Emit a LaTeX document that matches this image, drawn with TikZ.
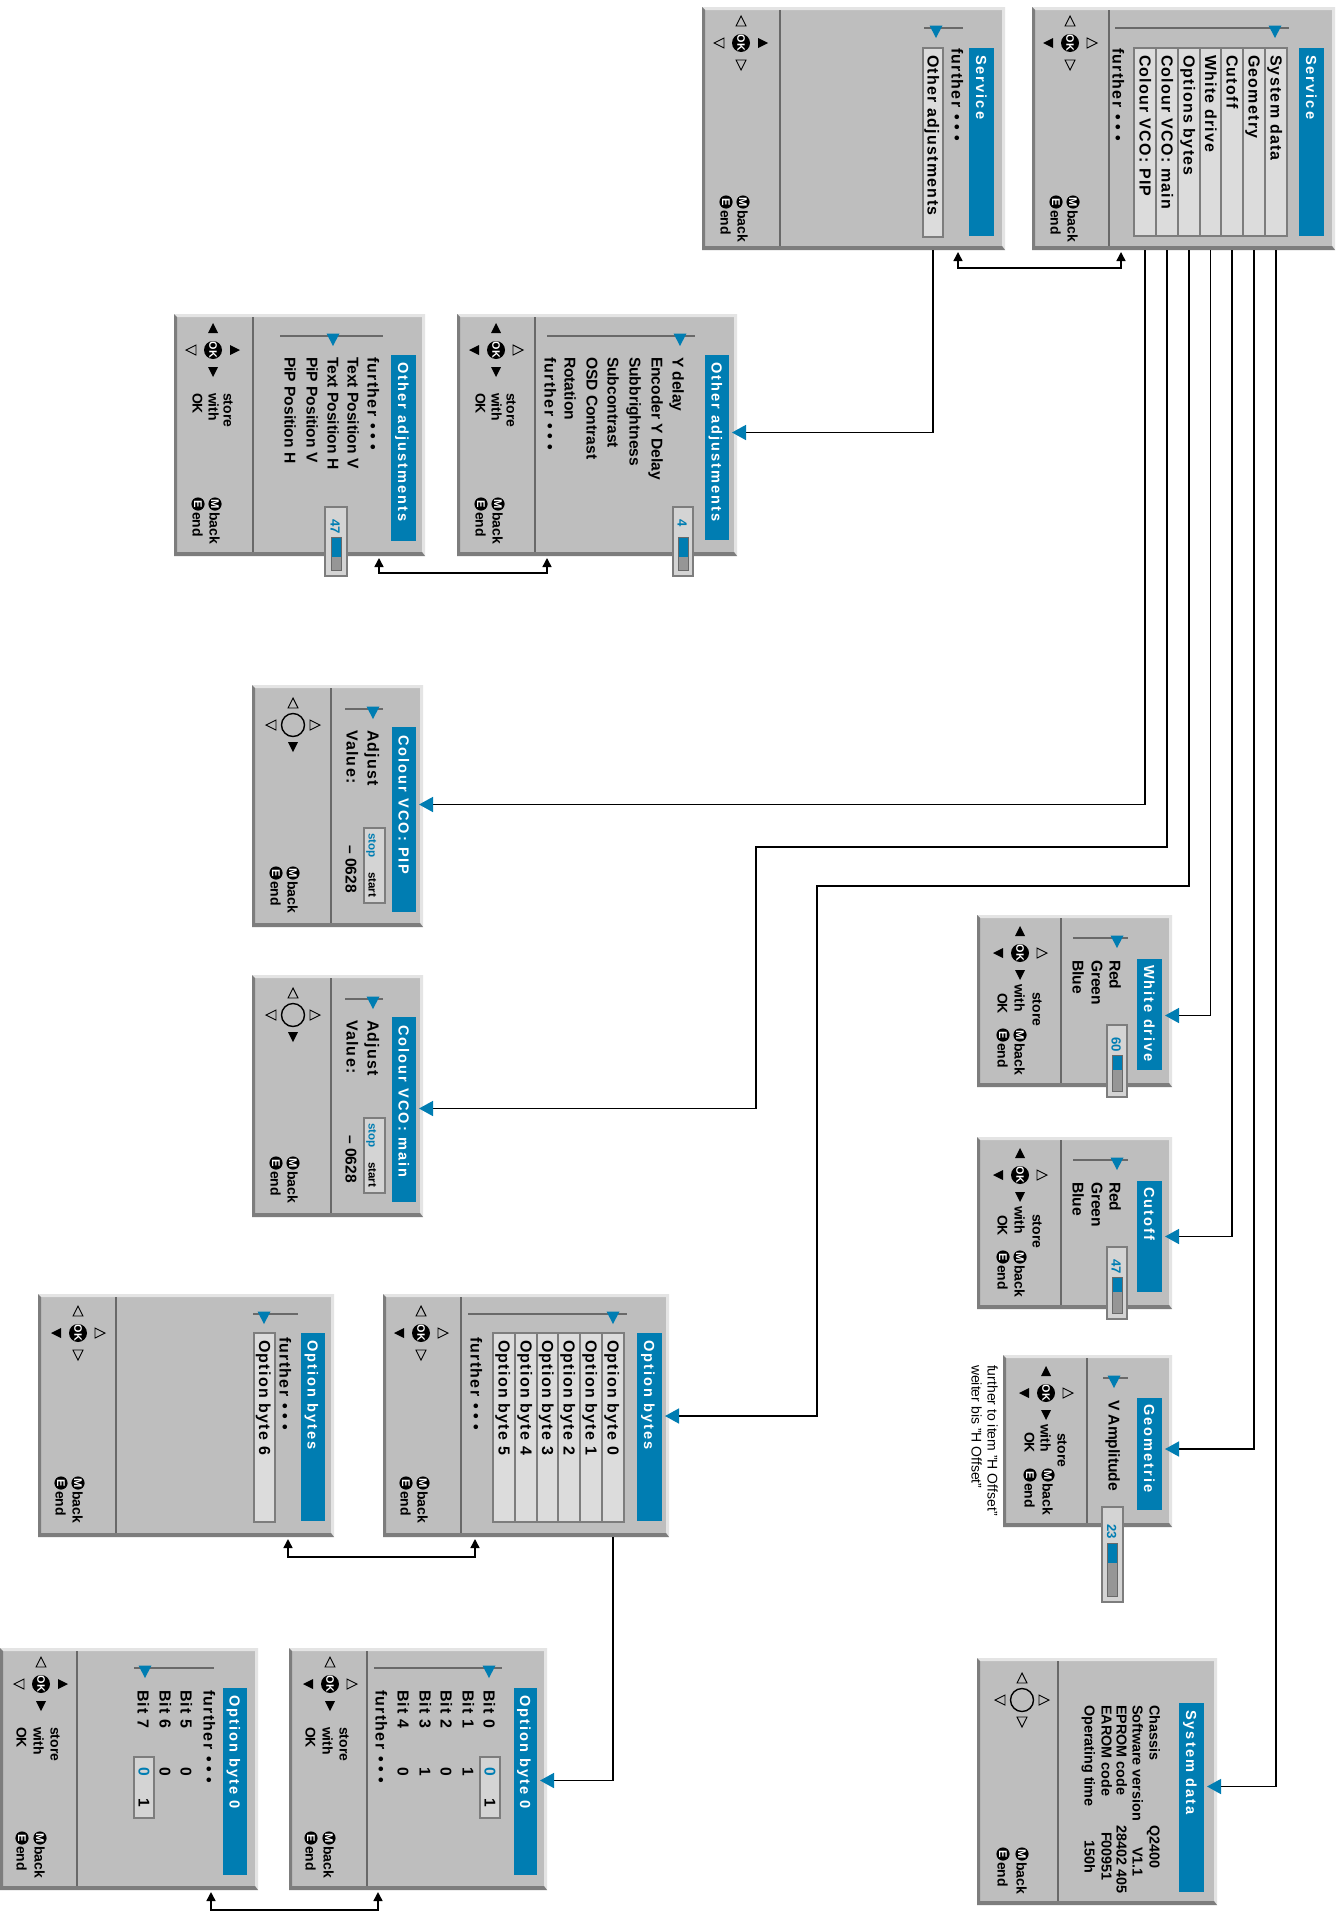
\documentclass[tikz,border=0pt]{standalone}
\usepackage{fontspec}
\setmainfont{Liberation Sans}
\newfontfamily\spfont[LetterSpace=8]{Liberation Sans}
\newfontfamily\tlfont[LetterSpace=14]{Liberation Sans}
\usetikzlibrary{arrows.meta,calc}
\definecolor{pfill}{RGB}{190,190,190}
\definecolor{plight}{RGB}{228,228,228}
\definecolor{pdark}{RGB}{125,125,125}
\definecolor{divc}{RGB}{105,105,105}
\definecolor{iboxc}{RGB}{220,220,220}
\definecolor{ibord}{RGB}{125,125,125}
\definecolor{tblue}{RGB}{0,125,178}
\definecolor{vboxc}{RGB}{212,212,212}
\definecolor{barg}{RGB}{150,150,150}
\newcounter{nn}
\newcommand\itf{\spfont\bfseries\fontsize{8}{9}\selectfont}
\newcommand\plf{\bfseries\fontsize{7.8}{9}\selectfont}
\newcommand\ttf{\tlfont\bfseries\fontsize{7.3}{9}\selectfont}
\newcommand\nvf{\bfseries\fontsize{7}{8}\selectfont}
\newcommand\sdf{\bfseries\fontsize{7.2}{9}\selectfont}
\newcommand\vlf{\bfseries\fontsize{6.6}{8}\selectfont}
\newcommand\exf{\fontsize{7}{8}\selectfont}
\newcommand\ssf{\bfseries\fontsize{5.8}{7}\selectfont}
\newcommand\furth{further\hspace{3.5pt}•\hspace{2.4pt}•\hspace{2.4pt}•}
\tikzset{
  panelbox/.style={rectangle, fill=pfill, draw=none, inner sep=0pt, outer sep=0pt},
  tbar/.style={rectangle, fill=tblue, draw=none, inner sep=0pt, outer sep=0pt},
  ibox/.style={rectangle, fill=iboxc, draw=ibord, line width=0.6pt, inner sep=0pt, outer sep=0pt},
  vbox/.style={rectangle, fill=vboxc, draw=pdark, line width=0.6pt, inner sep=0pt, outer sep=0pt},
  rtxt/.style={rotate=-90, anchor=mid west, inner sep=0pt, outer sep=0pt},
  okbtn/.style={circle, fill=black, text=white, inner sep=0pt, minimum size=9pt, rotate=-90, font=\bfseries\fontsize{5.4}{5}\selectfont},
  nobtn/.style={circle, draw=black, line width=0.7pt, inner sep=0pt, minimum size=11.5pt},
  mebtn/.style={circle, fill=black, text=white, inner sep=0pt, minimum size=6.6pt, rotate=-90, font=\bfseries\fontsize{5.6}{5}\selectfont},
  divline/.style={draw=divc, line width=1.4pt},
  sline/.style={draw=divc, line width=1.4pt},
  conn/.style={draw=black, line width=0.75pt},
  bluearr/.style={-{Triangle[length=7pt,width=7.5pt,color=tblue]}},
  biarr/.style={{Triangle[length=4.5pt,width=4.5pt]}-{Triangle[length=4.5pt,width=4.5pt]}},
}
\newcommand\RT[4][]{\stepcounter{nn}\node[rtxt,#1] (t\arabic{nn}) at (#2,#3) {#4};}
\newcommand\Panel[6]{%
  \node[panelbox, anchor=north west, minimum width={(#4-#2)*0.5pt}, minimum height={(#5-#3)*0.5pt}] (#1) at (#2,#3) {};
  \fill[plight] (#2,#3) -- (#4,#3) -- (#4,#5) -- ({#4-3},{#5-4}) -- ({#4-3},{#3+3}) -- ({#2+3},{#3+3}) -- cycle;
  \fill[pdark] (#2,#3) -- ({#2+3},{#3+3}) -- ({#2+3},{#5-4}) -- ({#4-3},{#5-4}) -- (#4,#5) -- (#2,#5) -- cycle;
  \draw[divline] (#6,{#3+3}) -- (#6,{#5-4});
}
\newcommand\Title[7]{%
  \node[tbar, anchor=north west, minimum width={(#3-#2)*0.5pt}, minimum height={(#5-#4)*0.5pt}] (#1) at (#2,#4) {};
  \pgfmathsetmacro\tmpx{(#2+#3)/2}%
  \RT[font=\ttf, text=white]{\tmpx}{#7}{#6}
}
\newcommand\Item[6]{%
  \node[ibox, anchor=north west, minimum width={(#3-#2)*0.5pt}, minimum height={(#5-#4)*0.5pt}] (#1) at (#2,#4) {};
  \pgfmathsetmacro\tmpx{(#2+#3)/2}%
  \RT[font=\itf]{\tmpx}{#4+7}{#6}
}
\newcommand\Slider[4]{%
  \draw[sline] (#1,#3) -- (#2,#3);
  \fill[tblue] ({#4-6.5},{#3-2.5}) -- ({#4+6.5},{#3-2.5}) -- (#4,{#3+10}) -- cycle;
}
\newcommand\Tri[4]{\ifnum#1=1 \fill[black] #2 -- #3 -- #4 -- cycle;\else\draw[black, line width=0.45pt, fill=pfill] #2 -- #3 -- #4 -- cycle;\fi}
\newcommand\Pad[7]{%
  \stepcounter{nn}%
  \ifnum#3=1 \node[okbtn] (b\arabic{nn}) at (#1,#2) {OK};\else\node[nobtn] (b\arabic{nn}) at (#1,#2) {};\fi
  \Tri{#4}{({#1-5},{#2-17})}{({#1+5},{#2-17})}{(#1,{#2-27})}
  \Tri{#5}{({#1+17},{#2-5})}{({#1+17},{#2+5})}{({#1+27},#2)}
  \Tri{#6}{({#1-5},{#2+17})}{({#1+5},{#2+17})}{(#1,{#2+27})}
  \Tri{#7}{({#1-17},{#2-5})}{({#1-17},{#2+5})}{({#1-27},#2)}
}
\newcommand\BackEnd[3]{%
  \stepcounter{nn}\node[mebtn] (m\arabic{nn}) at (#1,#3) {M};
  \stepcounter{nn}\node[mebtn] (m\arabic{nn}) at (#2,#3) {E};
  \RT[font=\nvf]{#1}{#3+8}{back}
  \RT[font=\nvf]{#2}{#3+8}{end}
}
\newcommand\StoreOK[6]{\RT[font=\nvf]{#1}{#4}{store}\RT[font=\nvf]{#2}{#5}{with}\RT[font=\nvf]{#3}{#6}{OK}}
\newcommand\ValBox[8]{%
  \stepcounter{nn}\node[vbox, anchor=north west, minimum width={(#2-#1)*0.5pt}, minimum height={(#4-#3)*0.5pt}] (v\arabic{nn}) at (#1,#3) {};
  \pgfmathsetmacro\tmpx{(#1+#2)/2}%
  \RT[font=\vlf, text=tblue]{\tmpx}{#6}{#5}
  \fill[barg] ({\tmpx-5},#7) rectangle ({\tmpx+5},{#4-6});
  \fill[tblue] ({\tmpx-5},#7) rectangle ({\tmpx+5},#8);
  \draw[divc, line width=0.5pt] ({\tmpx-5},#7) rectangle ({\tmpx+5},{#4-6});
}
\begin{document}
\begin{tikzpicture}[x=0.5pt,y=-0.5pt]
\useasboundingbox (0,0) rectangle (1342,1911);
\fill[white] (0,0) rectangle (1342,1911);
% ===== Service (right)
\Panel{p1}{1032}{7}{1335}{250}{1109}
\Title{tS1}{1299}{1324}{48}{236}{Service}{55}
\Slider{1115}{1289}{28}{1275}
\Item{iSys}{1265}{1287}{48}{236}{System data}
\Item{iGeo}{1243}{1265}{48}{236}{Geometry}
\Item{iCut}{1221}{1243}{48}{236}{Cutoff}
\Item{iWhi}{1200}{1221}{48}{236}{White drive}
\Item{iOpt}{1178}{1200}{48}{236}{Options bytes}
\Item{iMain}{1156}{1178}{48}{236}{Colour VCO: main}
\Item{iPIP}{1134}{1156}{48}{236}{Colour VCO: PIP}
\RT[font=\itf]{1118}{48}{\furth}
\Pad{1070}{43}{1}{0}{0}{0}{1}
\BackEnd{1073}{1056}{202}
% ===== Service (middle)
\Panel{p2}{702}{7}{1005}{250}{780}
\Title{tS2}{969}{994}{48}{236}{Service}{55}
\Slider{924}{963}{28}{936}
\RT[font=\itf]{957}{48}{\furth}
\Item{iOA}{923}{943}{48}{237}{Other adjustments}
\Pad{741}{43}{1}{0}{1}{0}{0}
\BackEnd{743}{726}{202}
% ===== Other adjustments A
\Panel{pA}{457}{314}{737}{556}{535}
\Title{tA}{705}{729}{355}{540}{Other adjustments}{362}
\Slider{547}{695}{336}{680}
\RT[font=\plf]{678}{357}{Y delay}
\RT[font=\plf]{657}{357}{Encoder Y Delay}
\RT[font=\plf]{635}{357}{Subbrightness}
\RT[font=\plf]{613}{357}{Subcontrast}
\RT[font=\plf]{592}{357}{OSD Contrast}
\RT[font=\plf]{570}{357}{Rotation}
\RT[font=\itf]{550}{357}{\furth}
\ValBox{673}{693}{507}{576}{4}{519}{537}{557}
\Pad{496}{350}{1}{1}{0}{1}{1}
\StoreOK{512}{497}{481}{393}{393}{393}
\BackEnd{498}{481}{504}
% ===== Other adjustments B
\Panel{pB}{174}{314}{425}{556}{253}
\Title{tB}{391}{416}{355}{541}{Other adjustments}{362}
\Slider{280}{383}{336}{333}
\RT[font=\itf]{373}{357}{\furth}
\RT[font=\plf]{353}{357}{Text Position V}
\RT[font=\plf]{333}{357}{Text Position H}
\RT[font=\plf]{312}{357}{PiP Position V}
\RT[font=\plf]{290}{357}{PiP Position H}
\ValBox{325}{347}{507}{576}{47}{519}{537}{557}
\Pad{213}{350}{1}{1}{1}{1}{0}
\StoreOK{229}{214}{198}{393}{393}{393}
\BackEnd{215}{198}{504}
% ===== Colour VCO: PIP
\Panel{pPIP}{252}{685}{423}{927}{331}
\Title{tPIP}{392}{416}{727}{912}{Colour VCO: PIP}{735}
\Slider{345}{383}{709}{373}
\RT[font=\itf]{373}{730}{Adjust}
\RT[font=\itf]{352}{730}{Value:}
\RT[font=\plf]{351}{845}{– 0628}
\node[vbox, anchor=north west, minimum width=10.5pt, minimum height=37.5pt] (ssP) at (364,828) {};
\RT[font=\ssf, text=tblue]{374}{833}{stop}
\RT[font=\ssf]{374}{872}{start}
\Pad{293}{725}{0}{0}{0}{1}{0}
\BackEnd{293}{276}{873}
% ===== Colour VCO: main
\Panel{pMain}{252}{975}{423}{1217}{331}
\Title{tMain}{392}{416}{1017}{1202}{Colour VCO: main}{1025}
\Slider{345}{383}{999}{373}
\RT[font=\itf]{373}{1020}{Adjust}
\RT[font=\itf]{352}{1020}{Value:}
\RT[font=\plf]{351}{1135}{– 0628}
\node[vbox, anchor=north west, minimum width=10.5pt, minimum height=37.5pt] (ssM) at (364,1118) {};
\RT[font=\ssf, text=tblue]{374}{1123}{stop}
\RT[font=\ssf]{374}{1162}{start}
\Pad{293}{1015}{0}{0}{0}{1}{0}
\BackEnd{293}{276}{1163}
% ===== White drive
\Panel{pWhi}{977}{915}{1172}{1087}{1061}
\Title{tWhi}{1137}{1162}{959}{1070}{White drive}{965}
\Slider{1073}{1128}{938}{1117}
\RT[font=\plf]{1115}{960}{Red}
\RT[font=\plf]{1097}{960}{Green}
\RT[font=\plf]{1078}{960}{Blue}
\ValBox{1107}{1127}{1025}{1097}{60}{1037}{1055}{1070}
\Pad{1020}{953}{1}{1}{0}{1}{1}
\StoreOK{1038}{1020}{1003}{992}{984}{993}
\BackEnd{1020}{1003}{1035}
% ===== Cutoff
\Panel{pCut}{977}{1137}{1172}{1309}{1061}
\Title{tCut}{1137}{1162}{1181}{1292}{Cutoff}{1187}
\Slider{1073}{1128}{1160}{1117}
\RT[font=\plf]{1115}{1182}{Red}
\RT[font=\plf]{1097}{1182}{Green}
\RT[font=\plf]{1078}{1182}{Blue}
\ValBox{1107}{1127}{1247}{1319}{47}{1259}{1277}{1292}
\Pad{1020}{1175}{1}{1}{0}{1}{1}
\StoreOK{1038}{1020}{1003}{1214}{1206}{1215}
\BackEnd{1020}{1003}{1257}
% ===== Geometrie
\Panel{pGeo}{1003}{1355}{1172}{1527}{1087}
\Title{tGeo}{1137}{1162}{1398}{1510}{Geometrie}{1404}
\Slider{1103}{1128}{1378}{1114}
\RT[font=\plf]{1114}{1400}{V Amplitude}
\ValBox{1102}{1123}{1507}{1602}{23}{1524}{1543}{1563}
\Pad{1046}{1393}{1}{1}{0}{1}{1}
\StoreOK{1063}{1046}{1030}{1433}{1424}{1432}
\BackEnd{1048}{1030}{1475}
\RT[font=\exf]{993}{1365}{further to item "H Offset"}
\RT[font=\exf]{977}{1365}{weiter bis "H Offset"}
% ===== System data
\Panel{pSys}{977}{1658}{1217}{1905}{1058}
\Title{tSys}{1179}{1204}{1703}{1892}{System data}{1710}
\RT[font=\sdf]{1155}{1705}{Chassis}
\RT[font=\sdf]{1138}{1705}{Software version}
\RT[font=\sdf]{1122}{1705}{EPROM code}
\RT[font=\sdf]{1107}{1705}{EAROM code}
\RT[font=\sdf]{1090}{1705}{Operating time}
\RT[font=\sdf]{1155}{1825}{Q2400}
\RT[font=\sdf]{1138}{1847}{V1.1}
\RT[font=\sdf]{1122}{1825}{28402 405}
\RT[font=\sdf]{1107}{1832}{F00951}
\RT[font=\sdf]{1090}{1840}{150h}
\Pad{1022}{1700}{0}{0}{0}{0}{0}
\BackEnd{1022}{1003}{1854}
% ===== Option bytes (left)
\Panel{pOB2}{38}{1294}{334}{1537}{116}
\Title{tOB2}{301}{325}{1333}{1521}{Option bytes}{1340}
\Slider{253}{298}{1314}{264}
\RT[font=\itf]{285}{1337}{\furth}
\Item{iOB6}{254}{275}{1333}{1522}{Option byte 6}
\Pad{78}{1333}{1}{0}{0}{0}{1}
\BackEnd{78}{61}{1483}
% ===== Option bytes (right)
\Panel{pOB1}{383}{1294}{669}{1537}{461}
\Title{tOB1}{637}{662}{1333}{1521}{Option bytes}{1340}
\Slider{468}{627}{1314}{613}
\Item{iOB0}{602}{624}{1333}{1522}{Option byte 0}
\Item{iOB1}{580}{602}{1333}{1522}{Option byte 1}
\Item{iOB2}{558}{580}{1333}{1522}{Option byte 2}
\Item{iOB3}{537}{558}{1333}{1522}{Option byte 3}
\Item{iOB4}{515}{537}{1333}{1522}{Option byte 4}
\Item{iOB5}{493}{515}{1333}{1522}{Option byte 5}
\RT[font=\itf]{476}{1337}{\furth}
\Pad{421}{1333}{1}{0}{0}{0}{1}
\BackEnd{423}{406}{1483}
% ===== Option byte 0 (right)
\Panel{pOBR}{289}{1648}{547}{1890}{367}
\Title{tOBR}{514}{537}{1688}{1875}{Option byte 0}{1695}
\Slider{374}{502}{1668}{489}
\RT[font=\itf]{489}{1690}{Bit 0}
\RT[font=\itf]{468}{1690}{Bit 1}
\RT[font=\itf]{446}{1690}{Bit 2}
\RT[font=\itf]{425}{1690}{Bit 3}
\RT[font=\itf]{403}{1690}{Bit 4}
\RT[font=\itf]{381}{1690}{\furth}
\node[vbox, anchor=north west, minimum width=10pt, minimum height=30.5pt] (vbR) at (480,1757) {};
\RT[font=\plf, text=tblue]{490}{1767}{0}
\RT[font=\plf]{490}{1798}{1}
\RT[font=\plf]{468}{1767}{1}
\RT[font=\plf]{446}{1767}{0}
\RT[font=\plf]{425}{1767}{1}
\RT[font=\plf]{403}{1767}{0}
\Pad{330}{1684}{1}{0}{0}{1}{1}
\StoreOK{345}{328}{311}{1727}{1727}{1727}
\BackEnd{329}{311}{1838}
% ===== Option byte 0 (left)
\Panel{pOBL}{0}{1648}{258}{1890}{77}
\Title{tOBL}{223}{247}{1688}{1875}{Option byte 0}{1695}
\Slider{134}{214}{1668}{145}
\RT[font=\itf]{209}{1690}{\furth}
\RT[font=\itf]{186}{1690}{Bit 5}
\RT[font=\itf]{165}{1690}{Bit 6}
\RT[font=\itf]{143}{1690}{Bit 7}
\node[vbox, anchor=north west, minimum width=10pt, minimum height=30.5pt] (vbL) at (134,1757) {};
\RT[font=\plf, text=tblue]{144}{1767}{0}
\RT[font=\plf]{144}{1798}{1}
\RT[font=\plf]{186}{1767}{0}
\RT[font=\plf]{165}{1767}{0}
\Pad{41}{1684}{1}{0}{1}{1}{0}
\StoreOK{56}{39}{22}{1727}{1727}{1727}
\BackEnd{40}{22}{1838}
% ===== connectors
\coordinate (jOpt) at (817,886);
\coordinate (jMain) at (756,847);
\draw[conn, biarr] ($(p2.south west)+(256,2)$) -- ++(0,16) -| ($(p1.south west)+(89,2)$);
\draw[conn, bluearr] (iOA |- p2.south) |- ($(tA.east)+(3,-15)$);
\draw[conn, biarr] ($(pA.south west)+(90,2)$) -- ++(0,15) -| ($(pB.south west)+(205,2)$);
\draw[conn, bluearr] (iSys |- p1.south) |- ($(tSys.east)+(3,-11)$);
\draw[conn, bluearr] (iGeo |- p1.south) |- ($(tGeo.east)+(3,-5)$);
\draw[conn, bluearr] (iCut |- p1.south) |- ($(tCut.east)+(3,0)$);
\draw[conn, bluearr] (iWhi |- p1.south) |- ($(tWhi.east)+(3,1)$);
\draw[conn, bluearr] (iOpt |- p1.south) |- (jOpt) |- ($(tOB1.east)+(3,-11)$);
\draw[conn, bluearr] (iMain |- p1.south) |- (jMain) |- ($(tMain.east)+(3,-1)$);
\draw[conn, bluearr] (iPIP |- p1.south) |- ($(tPIP.east)+(3,-15)$);
\draw[conn, bluearr] (iOB0 |- pOB1.south) |- ($(tOBR.east)+(3,-1)$);
\draw[conn, biarr] ($(pOB1.south west)+(92,2)$) -- ++(0,18) -| ($(pOB2.south west)+(250,2)$);
\draw[conn, biarr] ($(pOBR.south west)+(89,2)$) -- ++(0,18) -| ($(pOBL.south west)+(211,2)$);
\end{tikzpicture}
\end{document}
